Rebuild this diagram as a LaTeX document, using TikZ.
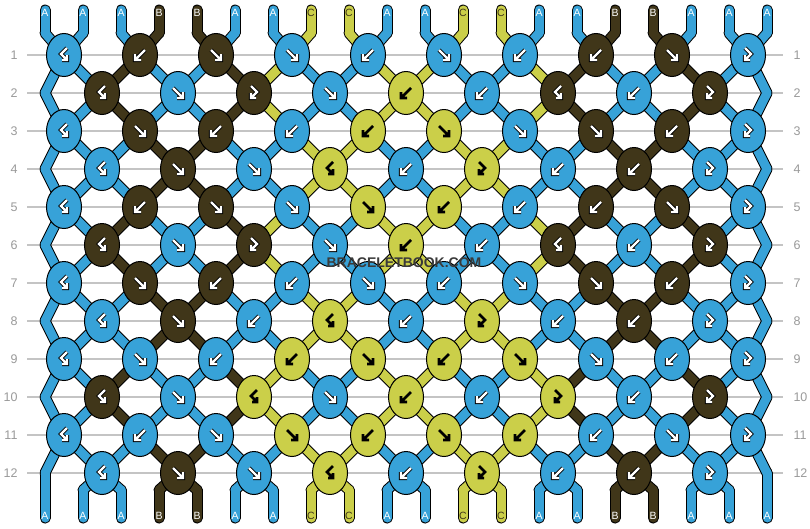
\documentclass[tikz,border=0pt]{standalone}
\usepackage{fontspec}
\setmainfont{Liberation Sans}
\usetikzlibrary{positioning,shapes.geometric}

\definecolor{thA}{HTML}{37A2D8}
\definecolor{thB}{HTML}{403619}
\definecolor{thC}{HTML}{CBCF49}
\colorlet{txA}{white}
\colorlet{txB}{white}
\colorlet{txC}{thB}
\definecolor{rowgray}{HTML}{9A9A9A}
\definecolor{gridgray}{HTML}{C4C4C4}
\definecolor{wmgray}{HTML}{3A3A3A}

\pgfdeclarelayer{grid}
\pgfdeclarelayer{rim}
\pgfdeclarelayer{core}
\pgfsetlayers{grid,rim,core,main}

\tikzset{
  knot/.style={ellipse, draw=black, line width=1pt, minimum width=35pt,
    minimum height=43pt, inner sep=0pt},
  rim/.style={line width=11pt, black, line cap=round},
  core/.style={line width=9pt, line cap=round},
  gridline/.style={gridgray, line width=1.2pt},
  rownum/.style={text=rowgray, font=\fontsize{12.5}{13}\selectfont},
  lab/.style={font=\fontsize{10.5}{10.5}\selectfont, inner sep=0pt},
  wmark/.style={font=\bfseries\fontsize{14}{14}\selectfont, text=wmgray, inner sep=0pt},
  farw/.pic={\draw[line join=miter] (-5,-5) -- (5,5) (-1,5) -- (5,5) -- (5,-1);},
  barw/.pic={\draw[line join=miter] (5,-5) -- (-5,5) (1,5) -- (-5,5) -- (-5,-1);},
  Farw/.pic={\draw[line join=miter] (-3,-7) -- (3,-1) -- (-3,5) (-3,0) -- (-3,5) -- (2,5);},
  Barw/.pic={\draw[line join=miter] (3,-7) -- (-3,-1) -- (3,5) (3,0) -- (3,5) -- (-2,5);},
}

% thread pieces are collected and drawn at the end: outline below, colour above
\gdef\rimlist{}
\gdef\corelist{}
\newcommand\piece[3]{%
  \xdef\rimlist{\unexpanded\expandafter{\rimlist}%
    \noexpand\draw[rim] (#1.center) -- (#2.center);}%
  \xdef\corelist{\unexpanded\expandafter{\corelist}%
    \noexpand\draw[core, color=th#3] (#1.center) -- (#2.center);}}

\newcommand\swapthreads{%
  \expandafter\xdef\csname c@\pl\endcsname{\thr}%
  \expandafter\xdef\csname c@\pr\endcsname{\thl}}

% one row of knots: f, b, F (forward-backward), B (backward-forward)
\newcommand\knotrow[2]{%
  \pgfmathtruncatemacro\rowy{17+38*#1}%
  \ifodd#1\relax
    \def\first{0}%
  \else
    \def\first{1}%
    \foreach \p in {0,19}{%
      \coordinate (s#1-\p) at (45+38*\p,\rowy);
      \piece{\csname s@\p\endcsname}{s#1-\p}{\csname c@\p\endcsname}%
      \expandafter\xdef\csname s@\p\endcsname{s#1-\p}%
    }%
  \fi
  \foreach \t [count=\k from 0] in {#2}{%
    \pgfmathtruncatemacro\pl{\first+2*\k}%
    \pgfmathtruncatemacro\pr{\pl+1}%
    \edef\thl{\csname c@\pl\endcsname}%
    \edef\thr{\csname c@\pr\endcsname}%
    \let\kc\thl
    \if b\t\let\kc\thr\fi
    \if B\t\let\kc\thr\fi
    \node[knot, fill=th\kc] (k#1-\pl) at (64+38*\pl,\rowy) {};
    \if C\kc
      \edef\doit{\noexpand\pic[black, line width=2.6pt] at (k#1-\pl) {\t arw};}%
    \else
      \edef\doit{\noexpand\pic[black, line width=4.2pt] at (k#1-\pl) {\t arw};
        \noexpand\pic[white, line width=2.4pt] at (k#1-\pl) {\t arw};}%
    \fi
    \doit
    \piece{\csname s@\pl\endcsname}{k#1-\pl}{\thl}%
    \piece{\csname s@\pr\endcsname}{k#1-\pl}{\thr}%
    \if f\t\swapthreads\fi
    \if b\t\swapthreads\fi
    \expandafter\xdef\csname s@\pl\endcsname{k#1-\pl}%
    \expandafter\xdef\csname s@\pr\endcsname{k#1-\pl}%
  }}

\begin{document}
\begin{tikzpicture}[x=1pt, y=-1pt]
\useasboundingbox (0,0) rectangle (810,528);

% row numbers and grid
\begin{pgfonlayer}{grid}
  \fill[white] (0,0) rectangle (810,528);
  \foreach \r in {1,...,12}
    \draw[gridline] (27,17+38*\r) -- (783,17+38*\r);
\end{pgfonlayer}
\foreach \r in {1,...,12}{
  \node[rownum, anchor=east] (nl\r) at (21,17+38*\r) {\r};
  \node[rownum, anchor=west] (nr\r) at (790,17+38*\r) {\r};
}

% strings at the top
\foreach \col [count=\p from 0] in {A,A,A,B,B,A,A,C,C,A,A,C,C,A,A,B,B,A,A,A}{
  \coordinate (u\p) at (45+38*\p,10);
  \coordinate (v\p) at (45+38*\p,33);
  \piece{u\p}{v\p}{\col}
  \node[lab, text=tx\col, yshift=-3pt] (top\p) at (u\p) {\col};
  \expandafter\xdef\csname c@\p\endcsname{\col}
  \expandafter\xdef\csname s@\p\endcsname{v\p}
}

\knotrow{1}{B,b,f,f,b,f,b,b,f,F}
\knotrow{2}{B,f,F,f,b,b,B,b,F}
\knotrow{3}{B,f,b,b,b,f,f,f,b,F}
\knotrow{4}{B,f,f,B,b,F,b,b,F}
\knotrow{5}{B,b,f,f,f,b,b,b,f,F}
\knotrow{6}{B,f,F,f,b,b,B,b,F}
\knotrow{7}{B,f,b,b,f,b,f,f,b,F}
\knotrow{8}{B,f,b,B,b,F,b,b,F}
\knotrow{9}{B,f,b,b,f,b,f,f,b,F}
\knotrow{10}{B,f,B,f,b,b,F,b,F}
\knotrow{11}{B,b,f,f,b,f,b,b,f,F}
\knotrow{12}{B,f,f,B,b,F,b,b,F}

% strings at the bottom
\foreach \p in {0,...,19}{
  \coordinate (w\p) at (45+38*\p,490);
  \coordinate (z\p) at (45+38*\p,518);
  \piece{\csname s@\p\endcsname}{w\p}{\csname c@\p\endcsname}
  \piece{w\p}{z\p}{\csname c@\p\endcsname}
  \edef\doit{\noexpand\node[lab, text=tx\csname c@\p\endcsname, yshift=2pt]
    (bot\p) at (z\p) {\csname c@\p\endcsname};}\doit
}

\begin{pgfonlayer}{rim}\rimlist\end{pgfonlayer}
\begin{pgfonlayer}{core}\corelist\end{pgfonlayer}

% watermark
\node[wmark] (wm) at (404,263) {BRACELETBOOK.COM};
\end{tikzpicture}
\end{document}
